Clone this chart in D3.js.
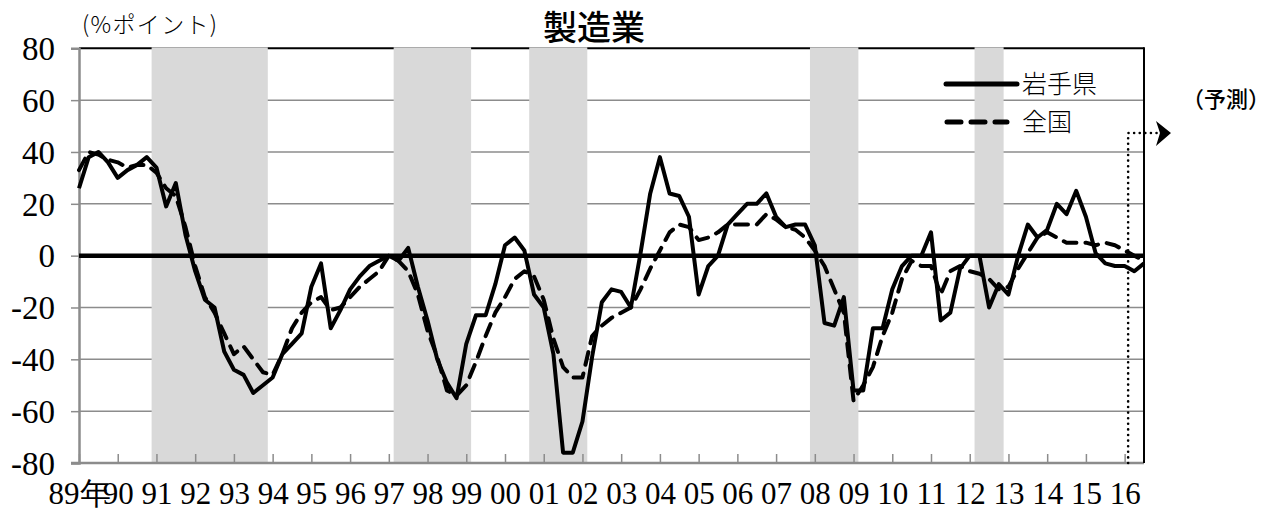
<!DOCTYPE html>
<html>
<head>
<meta charset="utf-8">
<script src="https://cdn.jsdelivr.net/npm/d3@7"></script>
<style>
  html, body { margin: 0; padding: 0; background: #fff; }
  svg { display: block; }
</style>
</head>
<body>
<svg id="chart" width="1277" height="520"></svg>
<script>
// ---- Data ----
// quarterly categories 1989Q1 .. 2016Q3
const quarters = [];
for (let y = 1989; y <= 2016; y++) {
  for (let q = 1; q <= 4; q++) {
    if (y === 2016 && q > 3) break;
    quarters.push(y + "Q" + q);
  }
}

// 岩手県 (solid)
const iwate = [
  26, 38, 40, 36, 30, 33, 35, 38, 34, 19,
  28, 8, -6, -17, -20, -37, -44, -46, -53, -50,
  -47, -38, -34, -30, -12, -3, -28, -21, -13, -8,
  -4, -2, 0, -2, 3, -12, -25, -40, -49, -55,
  -34, -23, -23, -11, 4, 7, 2, -15, -20, -38,
  -76, -76, -64, -39, -18, -13, -14, -20, 1, 24,
  38, 24, 23, 15, -15, -4, 0, 12, 16, 20,
  20, 24, 15, 11, 12, 12, 4, -26, -27, -16,
  -52, -52, -28, -28, -13, -4, 0, 0, 9, -25,
  -22, -5, 0, 0, -20, -11, -15, 0, 12, 7,
  10, 20, 16, 25, 15, 1, -3, -4, -4, -6,
  -3
];

// 全国 (dashed)
const zenkoku = [
  33, 40, 39, 37, 36, 34, 35, 35, 32, 26,
  23, 11, -4, -16, -22, -30, -38, -35, -40, -45,
  -46, -38, -28, -22, -18, -16, -21, -20, -16, -12,
  -9, -6, 0, -2, -6, -15, -29, -39, -52, -54,
  -50, -41, -31, -22, -16, -9, -6, -8, -17, -32,
  -43, -47, -47, -31, -27, -24, -22, -20, -13, -5,
  2, 9, 12, 11, 6, 7, 9, 12, 12, 12,
  12, 16, 14, 11, 10, 7, 2, -4, -13, -22,
  -56, -50, -43, -31, -22, -9, -2, -4, -4, -15,
  -6, -4, -6, -7, -9, -13, -12, -5, 1, 7,
  9, 7, 5, 5, 5, 4, 5, 4, 2, 0,
  -2
];

// recession periods (shaded)
const recessionStart = ["1991Q1", "1997Q2", "2000Q4", "2008Q1", "2012Q2"];
const recessionEnd   = ["1993Q4", "1999Q1", "2002Q1", "2009Q1", "2012Q4"];

// year tick labels
const yearLabels = ["89年","90","91","92","93","94","95","96","97","98","99","00","01","02",
                    "03","04","05","06","07","08","09","10","11","12","13","14","15","16"];
const yTicks = [-80, -60, -40, -20, 0, 20, 40, 60, 80];

const seriesNames = ["岩手県", "全国"];
const forecastAt = "2016Q1";

// ---- Drawing ----
const svg = d3.select("#chart");
const L = 79, R = 1144, T = 48.3, B = 463;
const NUM = '"Liberation Serif", "DejaVu Serif", "Times New Roman", serif';
const JP = '"Noto Sans CJK JP", "Noto Sans", sans-serif';

const x = d3.scalePoint().domain(quarters).range([L, R]).padding(0);
const step = x.step();
const y = d3.scaleLinear().domain([-80, 80]).range([B, T]);

// gridlines
svg.append("g").selectAll("line")
  .data(yTicks.filter(v => v > -80 && v < 80 && v !== 0))
  .join("line")
  .attr("x1", L).attr("x2", R)
  .attr("y1", d => y(d)).attr("y2", d => y(d))
  .attr("stroke", "#8c8c8c").attr("stroke-width", 1.5);

// top border
svg.append("line").attr("x1", L).attr("x2", R).attr("y1", y(80)).attr("y2", y(80))
  .attr("stroke", "#000").attr("stroke-width", 2);

// recession shading
svg.append("g").selectAll("rect")
  .data(recessionStart.map((s, i) => [s, recessionEnd[i]]))
  .join("rect")
  .attr("x", d => x(d[0]) - step / 2)
  .attr("width", d => x(d[1]) - x(d[0]) + step)
  .attr("y", y(80) - 1)
  .attr("height", y(-80) - y(80) + 1)
  .attr("fill", "#d9d9d9");

// y axis (left), ticks outward
const yAxis = d3.axisLeft(y).tickValues(yTicks).tickSize(8).tickFormat(d => d);
const gy = svg.append("g").attr("transform", `translate(${L},0)`).call(yAxis);
gy.attr("font-family", null).attr("font-size", null);
gy.select(".domain").attr("stroke", "#8c8c8c").attr("stroke-width", 2.5);
gy.selectAll(".tick line").attr("stroke", "#8c8c8c").attr("stroke-width", 1.5);
gy.selectAll(".tick text")
  .style("font-family", NUM).style("font-size", "33px").attr("fill", "#000")
  .attr("x", -24).attr("dy", "0.34em");

// x axis (bottom), ticks inward
const yearTicks = quarters.filter(q => q.endsWith("Q1"));
const xAxis = d3.axisBottom(x).tickValues(yearTicks).tickSize(-9)
  .tickFormat((d, i) => yearLabels[i]);
const gx = svg.append("g").attr("transform", `translate(0,${B})`).call(xAxis);
gx.attr("font-family", null).attr("font-size", null);
gx.select(".domain").attr("stroke", "#8c8c8c").attr("stroke-width", 2.5)
  .attr("d", `M${L - 8},0H${R}`);
gx.selectAll(".tick line").attr("stroke", "#8c8c8c").attr("stroke-width", 1.5);
gx.selectAll(".tick text")
  .style("font-family", NUM).style("font-size", "31px").attr("fill", "#000")
  .attr("y", 41).attr("dy", 0);

// right border
svg.append("line").attr("x1", R).attr("x2", R).attr("y1", y(80) - 1).attr("y2", B)
  .attr("stroke", "#000").attr("stroke-width", 2);

// zero line
svg.append("line").attr("x1", L).attr("x2", R).attr("y1", y(0)).attr("y2", y(0))
  .attr("stroke", "#000").attr("stroke-width", 4.5);

// series lines
const line = d3.line().x((d, i) => x(quarters[i])).y(d => y(d));
svg.append("path").datum(zenkoku).attr("d", line)
  .attr("fill", "none").attr("stroke", "#000").attr("stroke-width", 4)
  .attr("stroke-dasharray", "13,9").attr("stroke-linecap", "round")
  .attr("stroke-linejoin", "round");
svg.append("path").datum(iwate).attr("d", line)
  .attr("fill", "none").attr("stroke", "#000").attr("stroke-width", 4)
  .attr("stroke-linejoin", "round");

// forecast marker
const fx = x(forecastAt) + 3.5;
svg.append("path")
  .attr("d", `M${fx},${B} V${133} H${1160}`)
  .attr("fill", "none").attr("stroke", "#000").attr("stroke-width", 2.6)
  .attr("stroke-dasharray", "0,5.6").attr("stroke-linecap", "round");
svg.append("path")
  .attr("d", `M1156,121 L1171,133 L1156,146 L1160,133 Z`)
  .attr("fill", "#000");
svg.append("text").attr("x", 1182).attr("y", 99).attr("dy", "0.35em")
  .style("font-family", JP).style("font-size", "22px").style("font-weight", 500)
  .text("（予測）");

// legend
const lg = svg.append("g");
lg.append("line").attr("x1", 946).attr("x2", 1017).attr("y1", 84).attr("y2", 84)
  .attr("stroke", "#000").attr("stroke-width", 5).attr("stroke-linecap", "round");
lg.append("line").attr("x1", 947).attr("x2", 1007).attr("y1", 122).attr("y2", 122)
  .attr("stroke", "#000").attr("stroke-width", 5).attr("stroke-linecap", "round")
  .attr("stroke-dasharray", "14,10");
lg.selectAll("text").data(seriesNames).join("text")
  .attr("x", 1022).attr("y", (d, i) => i === 0 ? 84 : 122).attr("dy", "0.36em")
  .style("font-family", JP).style("font-size", "25px").style("font-weight", 300)
  .text(d => d);

// title and unit
svg.append("text").attr("x", 594).attr("y", 40)
  .attr("text-anchor", "middle")
  .style("font-family", JP).style("font-size", "34px").style("font-weight", 500)
  .text("製造業");
svg.append("text").attr("x", 82).attr("y", 33)
  .style("font-family", JP).style("font-size", "23px").style("font-weight", 300)
  .attr("textLength", 135).attr("lengthAdjust", "spacing")
  .text("(%ポイント)");
</script>
</body>
</html>
